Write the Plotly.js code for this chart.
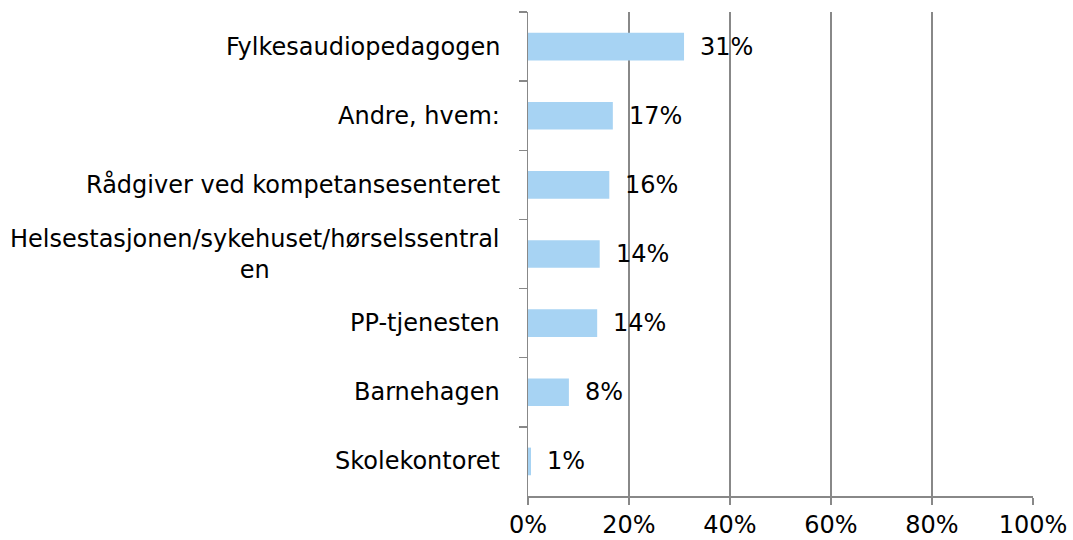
<!DOCTYPE html>
<html>
<head>
<meta charset="utf-8">
<script src="https://cdn.plot.ly/plotly-3.0.1.min.js"></script>
<style>html,body{margin:0;padding:0;background:#fff;}#chart{width:1073px;height:540px;}</style>
</head>
<body>
<div id="chart"></div>
<script>
var categories = [
  "Fylkesaudiopedagogen",
  "Andre, hvem:",
  "Rådgiver ved kompetansesenteret",
  "Helsestasjonen/sykehuset/hørselssentral<br>en",
  "PP-tjenesten",
  "Barnehagen",
  "Skolekontoret"
];
var values = [30.9, 16.8, 16.1, 14.2, 13.7, 8.1, 0.6];
var xTicks = [0, 20, 40, 60, 80, 100];
var xTickLabels = ["0%", "20%", "40%", "60%", "80%", "100%"];

var FONT = "DejaVu Sans, Verdana, sans-serif";
var FS = 24;
var GRID = "#888888";

var annotations = [];
categories.forEach(function (c, i) {
  annotations.push({
    x: 0, xref: "paper", y: c, yref: "y",
    text: c, showarrow: false, xanchor: "right", yanchor: "middle",
    align: "center", xshift: -26,
    font: {family: FONT, size: FS, color: "#000"}
  });
  annotations.push({
    x: values[i], xref: "x", y: c, yref: "y",
    text: Math.round(values[i]) + "%", showarrow: false,
    xanchor: "left", yanchor: "middle", xshift: 14,
    font: {family: FONT, size: FS, color: "#000"}
  });
});

var data = [{
  type: "bar",
  orientation: "h",
  x: values,
  y: categories,
  marker: {color: "#A7D3F3"},
  hoverinfo: "none"
}];

var layout = {
  width: 1073, height: 540,
  margin: {l: 528, r: 40, t: 12, b: 44, pad: 0},
  paper_bgcolor: "#fff", plot_bgcolor: "#fff",
  showlegend: false,
  bargap: 0.6,
  font: {family: FONT, size: FS, color: "#000"},
  xaxis: {
    range: [0, 100], tickmode: "array", tickvals: xTicks, ticktext: xTickLabels,
    showgrid: true, gridcolor: GRID, gridwidth: 1.5,
    zeroline: false, showline: true, linecolor: GRID, linewidth: 1.5,
    ticks: "outside", ticklen: 7, tickcolor: GRID, tickwidth: 1.5,
    ticklabelstandoff: 0,
    tickfont: {family: FONT, size: FS, color: "#000"},
    fixedrange: true
  },
  yaxis: {
    type: "category", categoryorder: "array", categoryarray: categories,
    autorange: "reversed",
    showgrid: false, zeroline: false, showline: true, linecolor: GRID, linewidth: 1.5,
    ticks: "outside", tickson: "boundaries", ticklen: 8, tickcolor: GRID, tickwidth: 1.5,
    showticklabels: false, fixedrange: true
  },
  annotations: annotations
};

Plotly.newPlot("chart", data, layout, {displayModeBar: false, staticPlot: true});
</script>
</body>
</html>
